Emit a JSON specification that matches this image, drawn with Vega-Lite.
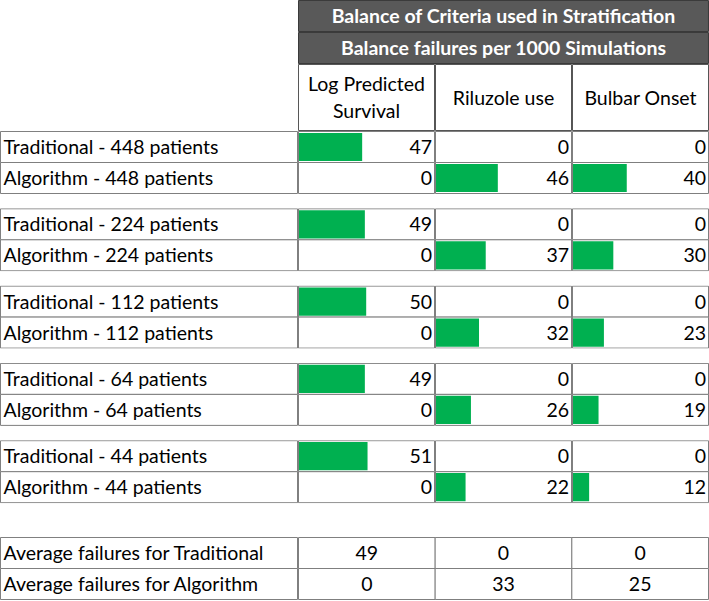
{
  "$schema": "https://vega.github.io/schema/vega-lite/v6.json",
  "padding": 0,
  "background": "white",
  "spacing": 0,
  "config": {
    "view": {"stroke": null, "clip": true},
    "font": "Lato",
    "text": {"font": "Lato", "fontSize": 19.5, "color": "black"},
    "rect": {"strokeWidth": 1},
    "concat": {"spacing": 0},
    "facet": {"spacing": 0}
  },
  "datasets": {
    "cells": [
      {"patients": 448, "method": "Traditional", "criterion": "Log Predicted Survival", "value": 47},
      {"patients": 448, "method": "Traditional", "criterion": "Riluzole use", "value": 0},
      {"patients": 448, "method": "Traditional", "criterion": "Bulbar Onset", "value": 0},
      {"patients": 448, "method": "Algorithm", "criterion": "Log Predicted Survival", "value": 0},
      {"patients": 448, "method": "Algorithm", "criterion": "Riluzole use", "value": 46},
      {"patients": 448, "method": "Algorithm", "criterion": "Bulbar Onset", "value": 40},
      {"patients": 224, "method": "Traditional", "criterion": "Log Predicted Survival", "value": 49},
      {"patients": 224, "method": "Traditional", "criterion": "Riluzole use", "value": 0},
      {"patients": 224, "method": "Traditional", "criterion": "Bulbar Onset", "value": 0},
      {"patients": 224, "method": "Algorithm", "criterion": "Log Predicted Survival", "value": 0},
      {"patients": 224, "method": "Algorithm", "criterion": "Riluzole use", "value": 37},
      {"patients": 224, "method": "Algorithm", "criterion": "Bulbar Onset", "value": 30},
      {"patients": 112, "method": "Traditional", "criterion": "Log Predicted Survival", "value": 50},
      {"patients": 112, "method": "Traditional", "criterion": "Riluzole use", "value": 0},
      {"patients": 112, "method": "Traditional", "criterion": "Bulbar Onset", "value": 0},
      {"patients": 112, "method": "Algorithm", "criterion": "Log Predicted Survival", "value": 0},
      {"patients": 112, "method": "Algorithm", "criterion": "Riluzole use", "value": 32},
      {"patients": 112, "method": "Algorithm", "criterion": "Bulbar Onset", "value": 23},
      {"patients": 64, "method": "Traditional", "criterion": "Log Predicted Survival", "value": 49},
      {"patients": 64, "method": "Traditional", "criterion": "Riluzole use", "value": 0},
      {"patients": 64, "method": "Traditional", "criterion": "Bulbar Onset", "value": 0},
      {"patients": 64, "method": "Algorithm", "criterion": "Log Predicted Survival", "value": 0},
      {"patients": 64, "method": "Algorithm", "criterion": "Riluzole use", "value": 26},
      {"patients": 64, "method": "Algorithm", "criterion": "Bulbar Onset", "value": 19},
      {"patients": 44, "method": "Traditional", "criterion": "Log Predicted Survival", "value": 51},
      {"patients": 44, "method": "Traditional", "criterion": "Riluzole use", "value": 0},
      {"patients": 44, "method": "Traditional", "criterion": "Bulbar Onset", "value": 0},
      {"patients": 44, "method": "Algorithm", "criterion": "Log Predicted Survival", "value": 0},
      {"patients": 44, "method": "Algorithm", "criterion": "Riluzole use", "value": 22},
      {"patients": 44, "method": "Algorithm", "criterion": "Bulbar Onset", "value": 12}
    ],
    "rows": [
      {"patients": 448, "method": "Traditional", "label": "Traditional - 448 patients"},
      {"patients": 448, "method": "Algorithm", "label": "Algorithm - 448 patients"},
      {"patients": 224, "method": "Traditional", "label": "Traditional - 224 patients"},
      {"patients": 224, "method": "Algorithm", "label": "Algorithm - 224 patients"},
      {"patients": 112, "method": "Traditional", "label": "Traditional - 112 patients"},
      {"patients": 112, "method": "Algorithm", "label": "Algorithm - 112 patients"},
      {"patients": 64, "method": "Traditional", "label": "Traditional - 64 patients"},
      {"patients": 64, "method": "Algorithm", "label": "Algorithm - 64 patients"},
      {"patients": 44, "method": "Traditional", "label": "Traditional - 44 patients"},
      {"patients": 44, "method": "Algorithm", "label": "Algorithm - 44 patients"}
    ],
    "avgRows": [
      {"section": "Average", "method": "Traditional", "label": "Average failures for Traditional"},
      {"section": "Average", "method": "Algorithm", "label": "Average failures for Algorithm"}
    ],
    "avg": [
      {"section": "Average", "method": "Traditional", "criterion": "Log Predicted Survival", "value": 49},
      {"section": "Average", "method": "Traditional", "criterion": "Riluzole use", "value": 0},
      {"section": "Average", "method": "Traditional", "criterion": "Bulbar Onset", "value": 0},
      {"section": "Average", "method": "Algorithm", "criterion": "Log Predicted Survival", "value": 0},
      {"section": "Average", "method": "Algorithm", "criterion": "Riluzole use", "value": 33},
      {"section": "Average", "method": "Algorithm", "criterion": "Bulbar Onset", "value": 25}
    ],
    "criteria": [
      {"criterion": "Log Predicted Survival", "header": "Log Predicted\nSurvival", "lines": 2},
      {"criterion": "Riluzole use", "header": "Riluzole use", "lines": 1},
      {"criterion": "Bulbar Onset", "header": "Bulbar Onset", "lines": 1}
    ],
    "titles": [
      {"level": 1, "t": "Balance of Criteria used in Stratification"},
      {"level": 2, "t": "Balance failures per 1000 Simulations"}
    ]
  },
  "vconcat": [
    {
      "spacing": 0,
      "hconcat": [
        {
          "width": 298,
          "height": 131,
          "data": {"values": [{"t": ""}]},
          "mark": {"type": "text"},
          "encoding": {"text": {"field": "t"}}
        },
        {
          "spacing": 0,
          "vconcat": [
            {
              "data": {"name": "titles"},
              "facet": {"row": {"field": "level", "type": "ordinal", "header": null}},
              "spacing": 0,
              "spec": {
                "width": 411,
                "height": 32,
                "encoding": {
                  "x": {"datum": 0, "type": "quantitative", "scale": {"domain": [-0.00122, 1.00122], "nice": false}, "axis": null},
                  "y": {"datum": 0, "type": "quantitative", "scale": {"domain": [-0.0161, 1.0161], "nice": false}, "axis": null}
                },
                "layer": [
                  {
                    "mark": {"type": "rect", "fill": "#595959", "stroke": "#3a3a3a"},
                    "encoding": {"x2": {"datum": 1}, "y2": {"datum": 1}}
                  },
                  {
                    "mark": {"type": "text", "fontWeight": "bold", "color": "white", "fontSize": 19.5, "dy": 1},
                    "encoding": {"x": {"datum": 0.5}, "y": {"datum": 0.5}, "text": {"field": "t"}}
                  }
                ]
              }
            },
            {
              "data": {"name": "criteria"},
              "facet": {"column": {"field": "criterion", "type": "nominal", "sort": ["Log Predicted Survival", "Riluzole use", "Bulbar Onset"], "header": null}},
              "spacing": 0,
              "spec": {
                "width": 137,
                "height": 67,
                "encoding": {
                  "x": {"datum": 0, "type": "quantitative", "scale": {"domain": [-0.00366, 1.00366], "nice": false}, "axis": null},
                  "y": {"datum": 0, "type": "quantitative", "scale": {"domain": [-0.0075, 1.0075], "nice": false}, "axis": null}
                },
                "layer": [
                  {
                    "mark": {"type": "rect", "fill": "white", "stroke": "#555555"},
                    "encoding": {"x2": {"datum": 1}, "y2": {"datum": 1}}
                  },
                  {
                    "transform": [{"filter": "datum.lines == 1"}],
                    "mark": {"type": "text", "dy": 1},
                    "encoding": {"x": {"datum": 0.5}, "y": {"datum": 0.5}, "text": {"field": "header"}}
                  },
                  {
                    "transform": [{"filter": "datum.lines == 2"}],
                    "mark": {"type": "text", "lineBreak": "\n", "lineHeight": 27, "dy": -12.5},
                    "encoding": {"x": {"datum": 0.5}, "y": {"datum": 0.5}, "text": {"field": "header"}}
                  }
                ]
              }
            }
          ]
        }
      ]
    },
    {
      "spacing": 33,
      "vconcat": [
        {
          "spacing": 0,
          "hconcat": [
            {
              "data": {"name": "rows"},
              "facet": {"row": {"field": "patients", "type": "ordinal", "sort": [448, 224, 112, 64, 44], "header": null}},
              "spacing": 14.3,
              "spec": {
                "width": 298,
                "height": 63,
                "encoding": {
                  "y": {"field": "method", "type": "nominal", "sort": ["Traditional", "Algorithm"], "scale": {"paddingInner": 0, "paddingOuter": 0.016}, "axis": null}
                },
                "layer": [
                  {
                    "mark": {"type": "rect", "fill": "white", "stroke": "#7f7f7f"},
                    "encoding": {
                      "x": {"datum": 0, "type": "quantitative", "scale": {"domain": [-0.00168, 1.00168], "nice": false}, "axis": null},
                      "x2": {"datum": 1}
                    }
                  },
                  {
                    "mark": {"type": "text", "align": "left", "dx": 3, "dy": 1},
                    "encoding": {
                      "x": {"datum": 0, "type": "quantitative"},
                      "text": {"field": "label"}
                    }
                  }
                ]
              }
            },
            {
              "data": {"name": "cells"},
              "facet": {
                "row": {"field": "patients", "type": "ordinal", "sort": [448, 224, 112, 64, 44], "header": null},
                "column": {"field": "criterion", "type": "nominal", "sort": ["Log Predicted Survival", "Riluzole use", "Bulbar Onset"], "header": null}
              },
              "spacing": {"row": 14.3, "column": 0},
              "spec": {
                "width": 137,
                "height": 63,
                "encoding": {
                  "y": {"field": "method", "type": "nominal", "sort": ["Traditional", "Algorithm"], "scale": {"paddingInner": 0, "paddingOuter": 0.016}, "axis": null}
                },
                "layer": [
                  {
                    "mark": {"type": "rect", "fill": "white", "stroke": "#7f7f7f"},
                    "encoding": {
                      "x": {"datum": -0.378, "type": "quantitative", "scale": {"domain": [-0.75, 101.2], "nice": false, "zero": false}, "axis": null},
                      "x2": {"datum": 100.83}
                    }
                  },
                  {
                    "mark": {"type": "bar", "color": "#00B050", "height": {"band": 0.91}},
                    "encoding": {
                      "x": {"field": "value", "type": "quantitative"},
                      "x2": {"datum": 0}
                    }
                  },
                  {
                    "mark": {"type": "text", "align": "right", "dx": -3, "dy": 1},
                    "encoding": {
                      "x": {"datum": 101.2, "type": "quantitative"},
                      "text": {"field": "value", "type": "quantitative"}
                    }
                  }
                ]
              }
            }
          ]
        },
        {
          "spacing": 0,
          "hconcat": [
            {
              "data": {"name": "avgRows"},
              "facet": {"row": {"field": "section", "type": "nominal", "header": null}},
              "spec": {
                "width": 298,
                "height": 63,
                "encoding": {
                  "y": {"field": "method", "type": "nominal", "sort": ["Traditional", "Algorithm"], "scale": {"paddingInner": 0, "paddingOuter": 0.016}, "axis": null}
                },
                "layer": [
                  {
                    "mark": {"type": "rect", "fill": "white", "stroke": "#7f7f7f"},
                    "encoding": {
                      "x": {"datum": 0, "type": "quantitative", "scale": {"domain": [-0.00168, 1.00168], "nice": false}, "axis": null},
                      "x2": {"datum": 1}
                    }
                  },
                  {
                    "mark": {"type": "text", "align": "left", "dx": 3, "dy": 1},
                    "encoding": {
                      "x": {"datum": 0, "type": "quantitative"},
                      "text": {"field": "label"}
                    }
                  }
                ]
              }
            },
            {
              "data": {"name": "avg"},
              "facet": {"row": {"field": "section", "type": "nominal", "header": null}},
              "spec": {
                "width": 411,
                "height": 63,
                "encoding": {
                  "x": {"field": "criterion", "type": "nominal", "sort": ["Log Predicted Survival", "Riluzole use", "Bulbar Onset"], "scale": {"paddingInner": 0, "paddingOuter": 0.00365}, "axis": null},
                  "y": {"field": "method", "type": "nominal", "sort": ["Traditional", "Algorithm"], "scale": {"paddingInner": 0, "paddingOuter": 0.016}, "axis": null}
                },
                "layer": [
                  {"mark": {"type": "rect", "fill": "white", "stroke": "#7f7f7f"}},
                  {"mark": {"type": "text", "dy": 1}, "encoding": {"text": {"field": "value", "type": "quantitative"}}}
                ]
              }
            }
          ]
        }
      ]
    }
  ]
}
